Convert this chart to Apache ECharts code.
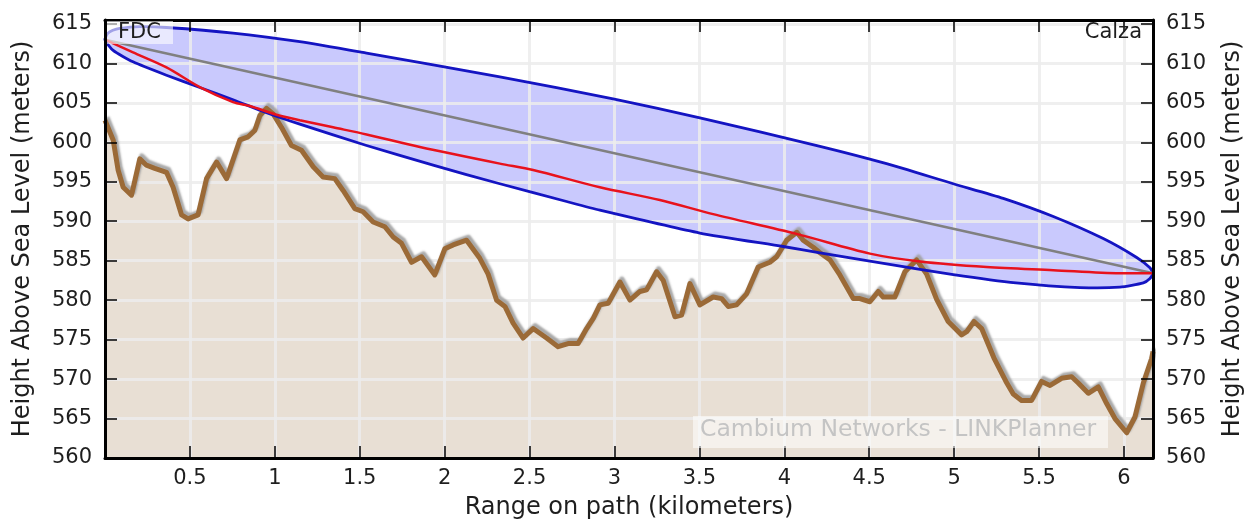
<!DOCTYPE html>
<html>
<head>
<meta charset="utf-8">
<title>Path profile FDC - Calza</title>
<script src="https://cdn.jsdelivr.net/npm/echarts@6/dist/echarts.min.js"></script>
<style>
  html, body { margin: 0; padding: 0; background: #ffffff; }
  #main { width: 1253px; height: 525px; }
</style>
</head>
<body>
<div id="main"></div>
<script>
// Terrain profile along the link path (distance in km, ground height in m)
const distKm = [0.000,0.048,0.077,0.107,0.156,0.205,0.244,0.293,0.362,0.401,
  0.451,0.489,0.548,0.598,0.657,0.716,0.794,0.843,0.882,0.912,
  0.951,0.990,1.039,1.098,1.157,1.226,1.284,1.353,1.402,1.471,
  1.520,1.579,1.648,1.697,1.746,1.805,1.864,1.942,2.001,2.050,
  2.129,2.207,2.256,2.306,2.355,2.403,2.462,2.521,2.600,2.668,
  2.727,2.786,2.836,2.875,2.914,2.963,3.032,3.091,3.150,3.189,
  3.248,3.287,3.356,3.395,3.444,3.503,3.581,3.631,3.670,3.719,
  3.778,3.846,3.915,3.955,4.014,4.074,4.111,4.170,4.210,4.269,
  4.327,4.406,4.445,4.504,4.553,4.582,4.651,4.710,4.779,4.838,
  4.897,4.965,5.044,5.074,5.117,5.162,5.234,5.305,5.348,5.397,
  5.456,5.515,5.565,5.633,5.692,5.731,5.790,5.849,5.898,5.947,
  6.016,6.065,6.114,6.163,6.171];
const terrainM = [602.8,600.3,596.5,594.3,593.3,597.9,597.1,596.7,596.2,594.3,
  590.8,590.3,590.8,595.4,597.5,595.4,600.3,600.7,601.5,603.4,
  604.3,603.6,601.9,599.6,599.0,596.9,595.6,595.4,593.9,591.6,
  591.2,589.9,589.3,588.0,587.2,584.8,585.5,583.2,586.5,587.0,
  587.6,585.3,583.3,580.0,579.2,577.1,575.2,576.4,575.2,574.1,
  574.5,574.5,576.4,577.7,579.4,579.6,582.3,580.0,581.1,581.3,
  583.6,582.5,577.9,578.1,582.1,579.4,580.4,580.2,579.2,579.4,
  580.8,584.2,584.8,585.5,587.6,588.6,587.6,586.7,586.0,585.1,
  583.2,580.2,580.2,579.8,581.1,580.4,580.4,583.6,585.1,583.3,
  580.1,577.3,575.6,576.0,577.3,576.4,572.7,569.7,568.1,567.3,
  567.3,569.7,569.2,570.1,570.3,569.5,568.2,569.0,566.9,565.0,
  563.2,565.2,569.5,572.6,573.5];

// Straight line of sight between the two antennas
const losKm = [0, 6.171];
const losM = [613.0, 583.4];

// Radio path adjusted for earth curvature
const pathKm = [0.000,0.165,0.362,0.558,0.754,0.853,1.010,1.147,1.343,1.540,
  1.854,2.325,2.521,2.914,3.267,3.581,4.072,4.504,4.799,5.191,5.584,5.976,6.171];
const pathM = [613.0,611.4,609.5,607.0,605.1,604.6,603.5,602.8,601.9,601.0,
  599.4,597.3,596.5,594.3,592.7,590.9,588.4,585.9,584.9,584.2,583.8,583.4,583.4];

// Fresnel zone boundaries
const zoneUpperKm = [0.000,0.016,0.046,0.087,0.205,0.362,0.754,1.147,1.540,2.325,
  2.992,3.503,4.210,4.602,4.995,5.289,5.584,5.878,6.075,6.153,6.171];
const zoneUpperM = [613.0,613.8,614.2,614.45,614.65,614.55,613.85,612.75,611.3,608.3,
  605.5,603.1,599.5,597.3,594.75,592.9,590.6,587.8,585.4,584.1,583.4];
const zoneLowerKm = [0.000,0.048,0.165,0.362,0.558,0.754,0.951,1.147,1.540,1.932,
  2.325,2.718,2.914,3.503,3.993,4.210,4.602,4.995,5.364,5.741,5.976,6.114,6.153,6.171];
const zoneLowerM = [613.0,611.65,610.2,608.5,606.95,605.4,603.75,602.3,599.6,597.1,
  594.75,592.5,591.4,588.5,586.8,586.0,584.6,583.25,582.2,581.6,581.65,582.2,582.75,583.4];

// Axis tick labels
const xTickLabels = ['0.5','1','1.5','2','2.5','3','3.5','4','4.5','5','5.5','6'];
const yTickLabels = ['560','565','570','575','580','585','590','595','600','605','610','615'];

const X_MIN = 0, X_MAX = 6.171, Y_MIN = 560, Y_MAX = 615.5;
const FONT = 'DejaVu Sans';
const TEXT = '#1e1e1e';

const zip = (xs, ys) => xs.map((x, i) => [x, ys[i]]);
const terrain = zip(distKm, terrainM);
const zoneRing = zip(zoneUpperKm, zoneUpperM).concat(zip(zoneLowerKm, zoneLowerM).reverse().slice(1, -1));

const tickText = (list) => (v) => {
  const s = String(Math.round(v * 1000) / 1000);
  return list.includes(s) ? s : '';
};

const frameLine = { show: true, onZero: false, lineStyle: { color: '#000', width: 3 } };
const frameTick = { show: true, inside: true, length: 12, lineStyle: { color: '#000', width: 1.5 } };
const gridLine = { show: true, lineStyle: { color: 'rgba(236,236,236,0.85)', width: 3 } };

const xFrame = (position, labels) => ({
  type: 'value', position, min: X_MIN, max: X_MAX, interval: 0.5, z: 10,
  axisLine: frameLine, axisTick: frameTick, splitLine: { show: false },
  axisLabel: labels ? {
    show: true, margin: 10, color: TEXT, fontFamily: FONT, fontSize: 21,
    formatter: tickText(xTickLabels)
  } : { show: false },
  name: labels ? 'Range on path (kilometers)' : '',
  nameLocation: 'middle', nameGap: 38,
  nameTextStyle: { color: TEXT, fontFamily: FONT, fontSize: 24 }
});

const yFrame = (position, gap) => ({
  type: 'value', position, min: Y_MIN, max: Y_MAX, interval: 5, z: 10,
  axisLine: frameLine, axisTick: frameTick, splitLine: { show: false },
  axisLabel: {
    show: true, margin: 13, color: TEXT, fontFamily: FONT, fontSize: 21,
    padding: [0, 0, 7, 0],
    formatter: tickText(yTickLabels)
  },
  name: 'Height Above Sea Level (meters)',
  nameLocation: 'middle', nameRotate: 90, nameGap: gap,
  nameTextStyle: { color: TEXT, fontFamily: FONT, fontSize: 24 }
});

const zoneShape = (api) => ({
  points: zoneRing.map(p => api.coord(p)),
  smooth: 0.2
});

const chart = echarts.init(document.getElementById('main'), null, { renderer: 'canvas' });

chart.setOption({
  animation: false,
  backgroundColor: '#ffffff',
  grid: { left: 105, right: 100, top: 20, bottom: 67, containLabel: false },
  xAxis: [
    xFrame('bottom', true),
    xFrame('top', false),
    { // grid lines only, drawn above the filled areas
      type: 'value', position: 'bottom', min: X_MIN, max: X_MAX, interval: 0.5, z: 2,
      axisLine: { show: false }, axisTick: { show: false }, axisLabel: { show: false },
      splitLine: gridLine
    }
  ],
  yAxis: [
    yFrame('left', 70),
    yFrame('right', 68),
    {
      type: 'value', position: 'left', min: Y_MIN, max: Y_MAX, interval: 5, z: 2,
      axisLine: { show: false }, axisTick: { show: false }, axisLabel: { show: false },
      splitLine: gridLine
    }
  ],
  series: [
    { // ground
      type: 'line', name: 'ground', data: terrain, z: 1, silent: true,
      showSymbol: false, lineStyle: { width: 0 },
      areaStyle: { color: '#e8dfd4', opacity: 1, origin: 'start' }
    },
    { // Fresnel zone fill
      type: 'custom', name: 'zone', data: zoneRing, z: 1, silent: true,
      renderItem: (params, api) => {
        if (params.dataIndex !== 0) return null;
        return { type: 'polygon', shape: zoneShape(api), style: { fill: '#c9c9fd' } };
      }
    },
    { // ground outline with its grey shadow
      type: 'line', name: 'terrain', data: terrain, z: 3, silent: true,
      showSymbol: false,
      lineStyle: {
        color: '#9b6a37', width: 5, join: 'round',
        shadowColor: 'rgba(160,160,160,0.9)', shadowBlur: 2,
        shadowOffsetX: 2, shadowOffsetY: -3
      }
    },
    { // Fresnel zone outline
      type: 'custom', name: 'zoneEdge', data: zoneRing, z: 4, silent: true,
      renderItem: (params, api) => {
        if (params.dataIndex !== 0) return null;
        return {
          type: 'polygon', shape: zoneShape(api),
          style: { fill: 'none', stroke: '#1414c2', lineWidth: 2.8 }
        };
      }
    },
    {
      type: 'line', name: 'los', data: zip(losKm, losM), z: 4, silent: true,
      showSymbol: false, lineStyle: { color: '#808080', width: 2.5 }
    },
    {
      type: 'line', name: 'path', data: zip(pathKm, pathM), z: 4, silent: true,
      showSymbol: false, smooth: 0.3, lineStyle: { color: '#e8121c', width: 2.5 }
    }
  ],
  graphic: [
    { type: 'rect', z: 20, shape: { x: 107, y: 21, width: 66, height: 23 },
      style: { fill: 'rgba(255,255,255,0.6)' } },
    { type: 'text', z: 21, style: { text: 'FDC', x: 118, y: 33, textVerticalAlign: 'middle',
      font: '21px "DejaVu Sans"', fill: TEXT } },
    { type: 'text', z: 21, style: { text: 'Calza', x: 1142, y: 33, textAlign: 'right',
      textVerticalAlign: 'middle', font: '21px "DejaVu Sans"', fill: TEXT } },
    { type: 'rect', z: 20, shape: { x: 693, y: 416, width: 415, height: 32 },
      style: { fill: 'rgba(255,255,255,0.55)' } },
    { type: 'text', z: 21, style: { text: 'Cambium Networks - LINKPlanner', x: 700, y: 430,
      textVerticalAlign: 'middle', font: '23.5px "DejaVu Sans"', fill: '#c4c4c4' } }
  ]
});
</script>
</body>
</html>
